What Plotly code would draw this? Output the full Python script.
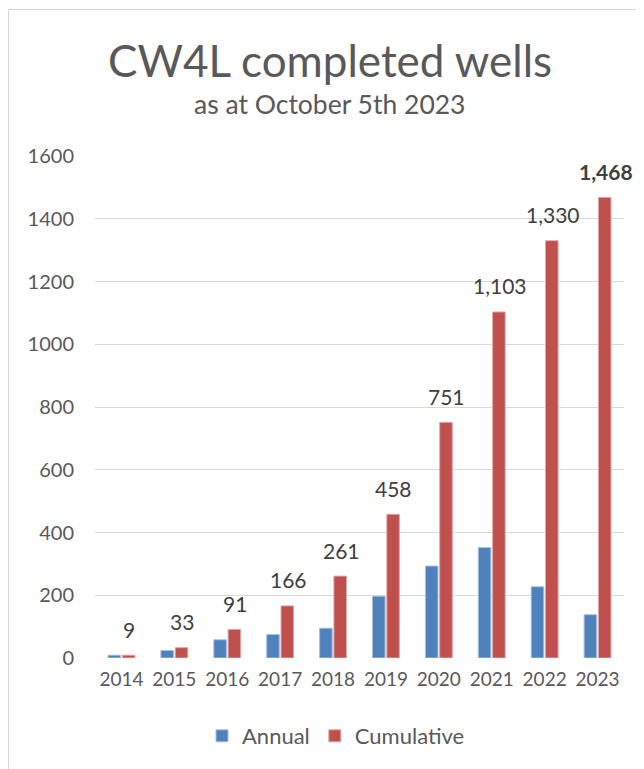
import plotly.graph_objects as go

years = ["2014", "2015", "2016", "2017", "2018", "2019", "2020", "2021", "2022", "2023"]
annual = [9, 24, 58, 75, 95, 197, 293, 352, 227, 138]
cumulative = [9, 33, 91, 166, 261, 458, 751, 1103, 1330, 1468]
cum_labels = ["9", "33", "91", "166", "261", "458", "751", "1,103", "1,330", "<b>1,468</b>"]

BLUE = "#4F81BD"
RED = "#C0504D"
TXT = "#595959"
FONT = "Lato"

fig = go.Figure()
fig.add_bar(x=years, y=annual, name="Annual", marker=dict(color=BLUE, line=dict(color="#A7C0DE", width=1)))
fig.add_bar(x=years, y=cumulative, name="Cumulative", marker=dict(color=RED, line=dict(color="#DFA8A6", width=1)))

OFF = 8  # page body margin
W, H = 644 - OFF, 769 - OFF
L, T = 95 - OFF, 156 - OFF
R = W - (624 - OFF)
B = H - (658 - OFF)
pw, ph = W - L - R, H - T - B

def px_x(p):
    return (p - OFF - L) / pw

def px_y(p):
    return (H - B - (p - OFF)) / ph

annotations = []
for i, (v, lab) in enumerate(zip(cumulative, cum_labels)):
    annotations.append(dict(x=i, y=v, text=lab, showarrow=False, xref="x", yref="y",
                            xshift=8, yshift=26, font=dict(family=FONT, size=21, color="#404040")))
annotations.append(dict(x=px_x(330), y=px_y(60), xref="paper", yref="paper", text="CW4L completed wells",
                        showarrow=False, yanchor="middle", font=dict(family=FONT, size=44, color=TXT)))
annotations.append(dict(x=px_x(330), y=px_y(104), xref="paper", yref="paper", text="as at October 5th 2023",
                        showarrow=False, yanchor="middle", font=dict(family=FONT, size=26.5, color=TXT)))

fig.update_layout(
    width=W, height=H,
    margin=dict(l=L, r=R, t=T, b=B, autoexpand=False),
    paper_bgcolor="white", plot_bgcolor="white",
    barmode="group", bargap=0.46, bargroupgap=0.12,
    font=dict(family=FONT, color=TXT, size=17),
    annotations=annotations,
    legend=dict(orientation="h", x=px_x(336), xanchor="center", y=px_y(736), yanchor="middle",
                font=dict(family=FONT, size=22, color=TXT)),
    shapes=[dict(type="rect", xref="paper", yref="paper", x0=px_x(OFF + 0.5), x1=px_x(700),
                 y0=px_y(820), y1=px_y(9.5), line=dict(color="#D9D9D9", width=1), layer="below")],
    showlegend=True,
)
fig.update_yaxes(range=[0, 1600], dtick=200, gridcolor="#D9D9D9", gridwidth=1, zeroline=False,
                 showline=False, tickfont=dict(size=20, color=TXT), ticks="",
                 ticklabelstandoff=20, automargin=False)
fig.update_xaxes(type="category", range=[-0.5, 9.5], showgrid=False, showline=False,
                 tickfont=dict(size=19, color=TXT), ticklabelstandoff=8, automargin=False)

fig.write_html("out.html")
